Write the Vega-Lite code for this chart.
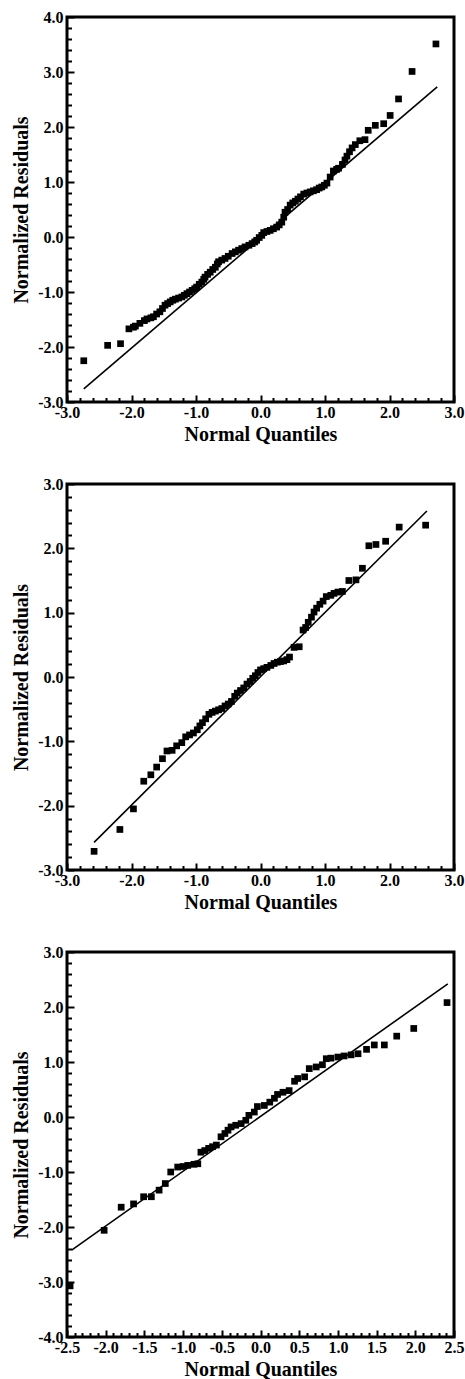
{
  "$schema": "https://vega.github.io/schema/vega-lite/v6.json",
  "background": "white",
  "padding": {"left": 10, "top": 7, "right": 6, "bottom": 0},
  "bounds": "flush",
  "spacing": 82,
  "config": {
    "view": {"stroke": "black", "strokeWidth": 3},
    "axis": {
      "domain": false, "grid": false,
      "labelFont": "Liberation Serif", "labelFontWeight": "bold", "labelFontSize": 16, "labelColor": "black",
      "titleFont": "Liberation Serif", "titleFontWeight": "bold", "titleColor": "black",
      "tickColor": "black", "tickWidth": 2,
      "labelFlush": false, "labelOverlap": false, "labelBound": false
    },
    "axisX": {"titleFontSize": 20, "titlePadding": 2, "labelPadding": 9},
    "axisY": {"titleFontSize": 20, "titlePadding": 6, "labelPadding": 11}
  },
  "datasets": {
    "p1": [
      {"q": -2.74, "r": -2.25}, {"q": -2.37, "r": -1.97}, {"q": -2.17, "r": -1.94}, {"q": -2.04, "r": -1.67},
      {"q": -1.97, "r": -1.64}, {"q": -1.94, "r": -1.62}, {"q": -1.87, "r": -1.57}, {"q": -1.8, "r": -1.52},
      {"q": -1.76, "r": -1.49}, {"q": -1.7, "r": -1.47}, {"q": -1.66, "r": -1.45}, {"q": -1.61, "r": -1.4},
      {"q": -1.56, "r": -1.36}, {"q": -1.52, "r": -1.3}, {"q": -1.48, "r": -1.24}, {"q": -1.44, "r": -1.21},
      {"q": -1.4, "r": -1.18}, {"q": -1.36, "r": -1.15}, {"q": -1.32, "r": -1.13}, {"q": -1.27, "r": -1.11},
      {"q": -1.22, "r": -1.09}, {"q": -1.18, "r": -1.06}, {"q": -1.14, "r": -1.03}, {"q": -1.1, "r": -1.0},
      {"q": -1.06, "r": -0.97}, {"q": -1.02, "r": -0.94}, {"q": -0.99, "r": -0.91}, {"q": -0.95, "r": -0.86},
      {"q": -0.91, "r": -0.82}, {"q": -0.88, "r": -0.77}, {"q": -0.86, "r": -0.73}, {"q": -0.82, "r": -0.68},
      {"q": -0.78, "r": -0.64}, {"q": -0.74, "r": -0.59}, {"q": -0.7, "r": -0.55}, {"q": -0.67, "r": -0.49},
      {"q": -0.65, "r": -0.45}, {"q": -0.6, "r": -0.42}, {"q": -0.55, "r": -0.39}, {"q": -0.5, "r": -0.35},
      {"q": -0.44, "r": -0.3}, {"q": -0.39, "r": -0.27}, {"q": -0.34, "r": -0.24}, {"q": -0.29, "r": -0.21},
      {"q": -0.24, "r": -0.18}, {"q": -0.18, "r": -0.15}, {"q": -0.13, "r": -0.12}, {"q": -0.09, "r": -0.09},
      {"q": -0.06, "r": -0.06}, {"q": -0.02, "r": -0.01}, {"q": 0.02, "r": 0.03}, {"q": 0.05, "r": 0.08},
      {"q": 0.1, "r": 0.1}, {"q": 0.15, "r": 0.12}, {"q": 0.2, "r": 0.15}, {"q": 0.25, "r": 0.18},
      {"q": 0.29, "r": 0.22}, {"q": 0.33, "r": 0.27}, {"q": 0.36, "r": 0.36}, {"q": 0.38, "r": 0.45},
      {"q": 0.42, "r": 0.5}, {"q": 0.46, "r": 0.58}, {"q": 0.5, "r": 0.62}, {"q": 0.54, "r": 0.65},
      {"q": 0.58, "r": 0.69}, {"q": 0.62, "r": 0.73}, {"q": 0.67, "r": 0.78}, {"q": 0.72, "r": 0.8},
      {"q": 0.77, "r": 0.82}, {"q": 0.82, "r": 0.84}, {"q": 0.87, "r": 0.86}, {"q": 0.91, "r": 0.89},
      {"q": 0.95, "r": 0.91}, {"q": 0.99, "r": 0.94}, {"q": 1.03, "r": 0.98}, {"q": 1.08, "r": 1.09},
      {"q": 1.13, "r": 1.2}, {"q": 1.18, "r": 1.23}, {"q": 1.21, "r": 1.25}, {"q": 1.27, "r": 1.32},
      {"q": 1.31, "r": 1.4}, {"q": 1.34, "r": 1.47}, {"q": 1.38, "r": 1.55}, {"q": 1.42, "r": 1.62},
      {"q": 1.47, "r": 1.68}, {"q": 1.54, "r": 1.75}, {"q": 1.62, "r": 1.77}, {"q": 1.67, "r": 1.94},
      {"q": 1.78, "r": 2.03}, {"q": 1.91, "r": 2.06}, {"q": 2.01, "r": 2.21}, {"q": 2.14, "r": 2.51},
      {"q": 2.35, "r": 3.01}, {"q": 2.72, "r": 3.51}
    ],
    "l1": [{"q": -2.74, "r": -2.76}, {"q": 2.74, "r": 2.73}],
    "p2": [
      {"q": -2.58, "r": -2.71}, {"q": -2.18, "r": -2.37}, {"q": -1.97, "r": -2.05}, {"q": -1.81, "r": -1.62},
      {"q": -1.7, "r": -1.52}, {"q": -1.61, "r": -1.4}, {"q": -1.52, "r": -1.27}, {"q": -1.45, "r": -1.15},
      {"q": -1.37, "r": -1.14}, {"q": -1.3, "r": -1.07}, {"q": -1.22, "r": -1.02}, {"q": -1.16, "r": -0.93},
      {"q": -1.1, "r": -0.9}, {"q": -1.04, "r": -0.87}, {"q": -0.98, "r": -0.82}, {"q": -0.94, "r": -0.76},
      {"q": -0.9, "r": -0.71}, {"q": -0.85, "r": -0.65}, {"q": -0.8, "r": -0.58}, {"q": -0.75, "r": -0.55},
      {"q": -0.7, "r": -0.53}, {"q": -0.65, "r": -0.51}, {"q": -0.6, "r": -0.49}, {"q": -0.55, "r": -0.45},
      {"q": -0.5, "r": -0.42}, {"q": -0.45, "r": -0.38}, {"q": -0.4, "r": -0.3}, {"q": -0.36, "r": -0.25},
      {"q": -0.31, "r": -0.21}, {"q": -0.26, "r": -0.17}, {"q": -0.21, "r": -0.11}, {"q": -0.16, "r": -0.07},
      {"q": -0.12, "r": -0.02}, {"q": -0.08, "r": 0.02}, {"q": -0.04, "r": 0.07}, {"q": 0.0, "r": 0.11},
      {"q": 0.05, "r": 0.13}, {"q": 0.1, "r": 0.15}, {"q": 0.16, "r": 0.18}, {"q": 0.21, "r": 0.21},
      {"q": 0.26, "r": 0.23}, {"q": 0.31, "r": 0.24}, {"q": 0.36, "r": 0.25}, {"q": 0.41, "r": 0.27},
      {"q": 0.45, "r": 0.31}, {"q": 0.52, "r": 0.46}, {"q": 0.6, "r": 0.47}, {"q": 0.66, "r": 0.73},
      {"q": 0.7, "r": 0.77}, {"q": 0.74, "r": 0.85}, {"q": 0.79, "r": 0.93}, {"q": 0.83, "r": 1.01},
      {"q": 0.87, "r": 1.07}, {"q": 0.92, "r": 1.13}, {"q": 0.97, "r": 1.18}, {"q": 1.02, "r": 1.25},
      {"q": 1.09, "r": 1.27}, {"q": 1.14, "r": 1.3}, {"q": 1.2, "r": 1.32}, {"q": 1.27, "r": 1.33},
      {"q": 1.37, "r": 1.5}, {"q": 1.48, "r": 1.51}, {"q": 1.58, "r": 1.69}, {"q": 1.68, "r": 2.04},
      {"q": 1.79, "r": 2.06}, {"q": 1.94, "r": 2.11}, {"q": 2.15, "r": 2.33}, {"q": 2.56, "r": 2.36}
    ],
    "l2": [{"q": -2.58, "r": -2.57}, {"q": 2.58, "r": 2.58}],
    "p3": [
      {"q": -2.46, "r": -3.07}, {"q": -2.02, "r": -2.06}, {"q": -1.8, "r": -1.64}, {"q": -1.64, "r": -1.58},
      {"q": -1.51, "r": -1.45}, {"q": -1.41, "r": -1.45}, {"q": -1.31, "r": -1.33}, {"q": -1.23, "r": -1.21},
      {"q": -1.16, "r": -1.0}, {"q": -1.07, "r": -0.91}, {"q": -1.0, "r": -0.9}, {"q": -0.94, "r": -0.88},
      {"q": -0.86, "r": -0.86}, {"q": -0.81, "r": -0.85}, {"q": -0.77, "r": -0.64}, {"q": -0.72, "r": -0.61},
      {"q": -0.67, "r": -0.57}, {"q": -0.62, "r": -0.54}, {"q": -0.57, "r": -0.51}, {"q": -0.51, "r": -0.36},
      {"q": -0.46, "r": -0.3}, {"q": -0.42, "r": -0.24}, {"q": -0.38, "r": -0.18}, {"q": -0.32, "r": -0.15},
      {"q": -0.25, "r": -0.12}, {"q": -0.19, "r": -0.06}, {"q": -0.15, "r": 0.03}, {"q": -0.08, "r": 0.09},
      {"q": -0.04, "r": 0.19}, {"q": 0.05, "r": 0.21}, {"q": 0.12, "r": 0.27}, {"q": 0.18, "r": 0.34},
      {"q": 0.22, "r": 0.41}, {"q": 0.29, "r": 0.45}, {"q": 0.37, "r": 0.48}, {"q": 0.44, "r": 0.65},
      {"q": 0.48, "r": 0.7}, {"q": 0.57, "r": 0.73}, {"q": 0.63, "r": 0.88}, {"q": 0.72, "r": 0.91},
      {"q": 0.8, "r": 0.95}, {"q": 0.85, "r": 1.06}, {"q": 0.91, "r": 1.07}, {"q": 1.0, "r": 1.09},
      {"q": 1.08, "r": 1.11}, {"q": 1.17, "r": 1.13}, {"q": 1.26, "r": 1.15}, {"q": 1.37, "r": 1.23},
      {"q": 1.47, "r": 1.31}, {"q": 1.6, "r": 1.31}, {"q": 1.76, "r": 1.47}, {"q": 1.98, "r": 1.61},
      {"q": 2.41, "r": 2.08}
    ],
    "l3": [{"q": -2.44, "r": -2.42}, {"q": 2.42, "r": 2.42}]
  },
  "vconcat": [
    {
      "width": 387, "height": 385,
      "encoding": {
        "x": {"field": "q", "type": "quantitative", "scale": {"domain": [-3, 3], "nice": false, "zero": false},
          "axis": {"title": "Normal Quantiles",
            "values": [-3, -2.8, -2.6, -2.4, -2.2, -2, -1.8, -1.6, -1.4, -1.2, -1, -0.8, -0.6, -0.4, -0.2, 0, 0.2, 0.4, 0.6, 0.8, 1, 1.2, 1.4, 1.6, 1.8, 2, 2.2, 2.4, 2.6, 2.8, 3],
            "labelExpr": "abs(datum.value - round(datum.value)) < 0.01 ? (datum.value < -0.001 ? '-' : '') + format(abs(datum.value), '.1f') : ''",
            "tickSize": {"condition": {"test": "abs(datum.value - round(datum.value)) < 0.01", "value": -7}, "value": -4.5}}},
        "y": {"field": "r", "type": "quantitative", "scale": {"domain": [-3, 4], "nice": false, "zero": false},
          "axis": {"title": "Normalized Residuals",
            "values": [-3, -2.8, -2.6, -2.4, -2.2, -2, -1.8, -1.6, -1.4, -1.2, -1, -0.8, -0.6, -0.4, -0.2, 0, 0.2, 0.4, 0.6, 0.8, 1, 1.2, 1.4, 1.6, 1.8, 2, 2.2, 2.4, 2.6, 2.8, 3, 3.2, 3.4, 3.6, 3.8, 4],
            "labelExpr": "abs(datum.value - round(datum.value)) < 0.01 ? (datum.value < -0.001 ? '-' : '') + format(abs(datum.value), '.1f') : ''",
            "tickSize": {"condition": {"test": "abs(datum.value - round(datum.value)) < 0.01", "value": -7}, "value": -4.5}}}
      },
      "layer": [
        {"data": {"name": "p1"}, "mark": {"type": "point", "shape": "square", "filled": true, "color": "black", "size": 45, "opacity": 1}},
        {"data": {"name": "l1"}, "mark": {"type": "line", "color": "black", "strokeWidth": 1.6}}
      ]
    },
    {
      "width": 387, "height": 386,
      "encoding": {
        "x": {"field": "q", "type": "quantitative", "scale": {"domain": [-3, 3], "nice": false, "zero": false},
          "axis": {"title": "Normal Quantiles",
            "values": [-3, -2.8, -2.6, -2.4, -2.2, -2, -1.8, -1.6, -1.4, -1.2, -1, -0.8, -0.6, -0.4, -0.2, 0, 0.2, 0.4, 0.6, 0.8, 1, 1.2, 1.4, 1.6, 1.8, 2, 2.2, 2.4, 2.6, 2.8, 3],
            "labelExpr": "abs(datum.value - round(datum.value)) < 0.01 ? (datum.value < -0.001 ? '-' : '') + format(abs(datum.value), '.1f') : ''",
            "tickSize": {"condition": {"test": "abs(datum.value - round(datum.value)) < 0.01", "value": -7}, "value": -4.5}}},
        "y": {"field": "r", "type": "quantitative", "scale": {"domain": [-3, 3], "nice": false, "zero": false},
          "axis": {"title": "Normalized Residuals",
            "values": [-3, -2.8, -2.6, -2.4, -2.2, -2, -1.8, -1.6, -1.4, -1.2, -1, -0.8, -0.6, -0.4, -0.2, 0, 0.2, 0.4, 0.6, 0.8, 1, 1.2, 1.4, 1.6, 1.8, 2, 2.2, 2.4, 2.6, 2.8, 3],
            "labelExpr": "abs(datum.value - round(datum.value)) < 0.01 ? (datum.value < -0.001 ? '-' : '') + format(abs(datum.value), '.1f') : ''",
            "tickSize": {"condition": {"test": "abs(datum.value - round(datum.value)) < 0.01", "value": -7}, "value": -4.5}}}
      },
      "layer": [
        {"data": {"name": "p2"}, "mark": {"type": "point", "shape": "square", "filled": true, "color": "black", "size": 45, "opacity": 1}},
        {"data": {"name": "l2"}, "mark": {"type": "line", "color": "black", "strokeWidth": 1.6}}
      ]
    },
    {
      "width": 387, "height": 385,
      "encoding": {
        "x": {"field": "q", "type": "quantitative", "scale": {"domain": [-2.5, 2.5], "nice": false, "zero": false},
          "axis": {"title": "Normal Quantiles",
            "values": [-2.5, -2.4, -2.3, -2.2, -2.1, -2, -1.9, -1.8, -1.7, -1.6, -1.5, -1.4, -1.3, -1.2, -1.1, -1, -0.9, -0.8, -0.7, -0.6, -0.5, -0.4, -0.3, -0.2, -0.1, 0, 0.1, 0.2, 0.3, 0.4, 0.5, 0.6, 0.7, 0.8, 0.9, 1, 1.1, 1.2, 1.3, 1.4, 1.5, 1.6, 1.7, 1.8, 1.9, 2, 2.1, 2.2, 2.3, 2.4, 2.5],
            "labelExpr": "abs(datum.value * 2 - round(datum.value * 2)) < 0.01 ? (datum.value < -0.001 ? '-' : '') + format(abs(datum.value), '.1f') : ''",
            "tickSize": {"condition": {"test": "abs(datum.value * 2 - round(datum.value * 2)) < 0.01", "value": -7}, "value": -4.5}}},
        "y": {"field": "r", "type": "quantitative", "scale": {"domain": [-4, 3], "nice": false, "zero": false},
          "axis": {"title": "Normalized Residuals",
            "values": [-4, -3.8, -3.6, -3.4, -3.2, -3, -2.8, -2.6, -2.4, -2.2, -2, -1.8, -1.6, -1.4, -1.2, -1, -0.8, -0.6, -0.4, -0.2, 0, 0.2, 0.4, 0.6, 0.8, 1, 1.2, 1.4, 1.6, 1.8, 2, 2.2, 2.4, 2.6, 2.8, 3],
            "labelExpr": "abs(datum.value - round(datum.value)) < 0.01 ? (datum.value < -0.001 ? '-' : '') + format(abs(datum.value), '.1f') : ''",
            "tickSize": {"condition": {"test": "abs(datum.value - round(datum.value)) < 0.01", "value": -7}, "value": -4.5}}}
      },
      "layer": [
        {"data": {"name": "p3"}, "mark": {"type": "point", "shape": "square", "filled": true, "color": "black", "size": 45, "opacity": 1}},
        {"data": {"name": "l3"}, "mark": {"type": "line", "color": "black", "strokeWidth": 1.6}}
      ]
    }
  ]
}
